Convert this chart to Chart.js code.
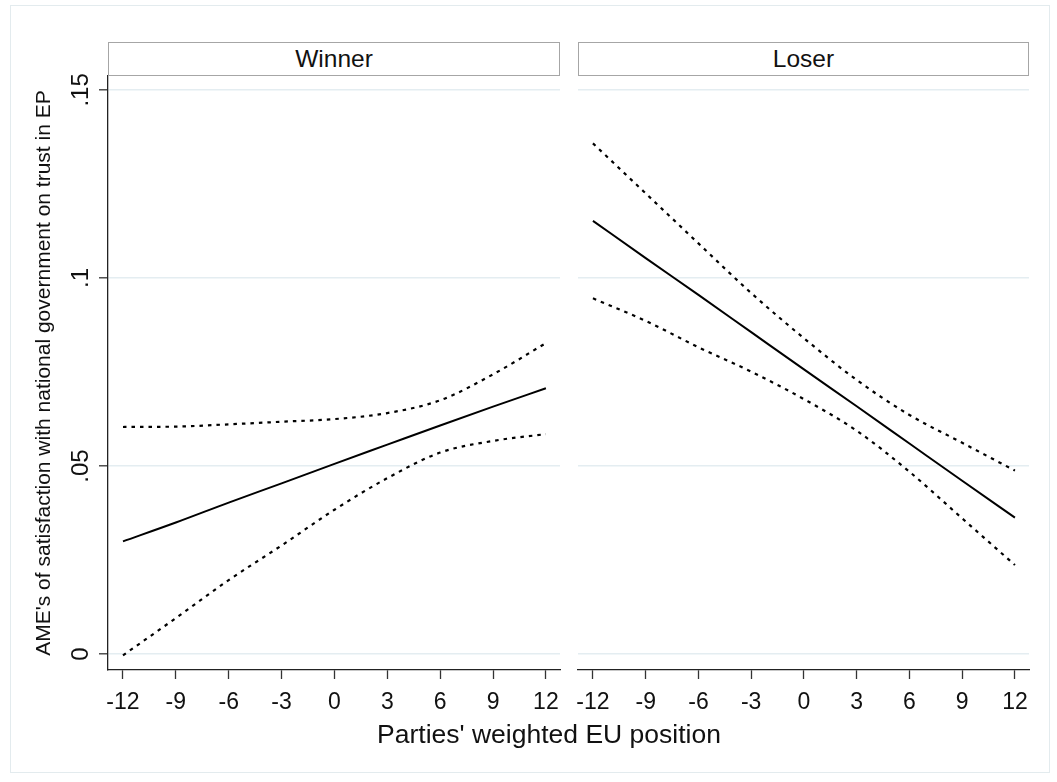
<!DOCTYPE html>
<html>
<head>
<meta charset="utf-8">
<script src="https://cdn.jsdelivr.net/npm/chart.js@4.4.1/dist/chart.umd.min.js"></script>
<style>
  html, body { margin: 0; padding: 0; background: #ffffff; }
  #wrap { position: relative; width: 1057px; height: 782px; overflow: hidden; background: #fff; }
  #frame { position: absolute; left: 10px; top: 5px; width: 1040px; height: 768px; border: 1px solid #e3ebee; box-sizing: border-box; }
  canvas { position: absolute; left: 0; top: 0; }
  .hdr { position: absolute; top: 42px; height: 34px; box-sizing: border-box; border: 1px solid #a6a6a6; background: #fff;
         font-family: "Liberation Sans", Arial, sans-serif; font-size: 24.5px; color: #111; text-align: center; line-height: 31px; }
  #xtitle { position: absolute; left: 0; width: 1098px; top: 719px; text-align: center;
            font-family: "Liberation Sans", Arial, sans-serif; font-size: 26.5px; color: #111; line-height: 30px; }
</style>
</head>
<body>
<div id="wrap">
  <div id="frame"></div>
  <canvas id="cw" width="1057" height="782"></canvas>
  <canvas id="cl" width="1057" height="782"></canvas>
  <div class="hdr" id="hw" style="left:108px; width:452px;">Winner</div>
  <div class="hdr" id="hl" style="left:578px; width:451px;">Loser</div>
  <div id="xtitle">Parties' weighted EU position</div>
</div>
<script>
// ---- data ----
const panelNames = ["Winner", "Loser"];
const xPositions = [-12, -9, -6, -3, 0, 3, 6, 9, 12];
const xTickValues = [-12, -9, -6, -3, 0, 3, 6, 9, 12];
const yTickValues = [0, 0.05, 0.1, 0.15];
const yTickLabels = ["0", ".05", ".1", ".15"];

const winnerAME   = [0.0300, 0.0350, 0.0403, 0.0454, 0.0506, 0.0557, 0.0608, 0.0658, 0.0707];
const winnerUpper = [0.0604, 0.0605, 0.0611, 0.0618, 0.0625, 0.0641, 0.0675, 0.0744, 0.0827];
const winnerLower = [-0.0003, 0.0096, 0.0197, 0.0289, 0.0384, 0.0468, 0.0536, 0.0567, 0.0585];

const loserAME    = [0.1152, 0.1053, 0.0955, 0.0856, 0.0757, 0.0659, 0.0560, 0.0461, 0.0363];
const loserUpper  = [0.1358, 0.1225, 0.1092, 0.0960, 0.0840, 0.0729, 0.0636, 0.0562, 0.0488];
const loserLower  = [0.0946, 0.0886, 0.0816, 0.0751, 0.0678, 0.0594, 0.0485, 0.0361, 0.0237];

const yTitle = "AME's of satisfaction with national government on trust in EP";

// ---- helpers ----
const FONT = '"Liberation Sans", Arial, sans-serif';
const toXY = (vals) => xPositions.map((x, i) => ({ x: x, y: vals[i] }));

function datasets(mid, up, lo) {
  const dotted = { borderColor: '#000', borderWidth: 2.2, borderDash: [3.5, 5], pointRadius: 0, fill: false, cubicInterpolationMode: 'monotone' };
  return [
    Object.assign({ label: 'upper', data: toXY(up) }, dotted),
    Object.assign({ label: 'lower', data: toXY(lo) }, dotted),
    { label: 'AME', data: toXY(mid), borderColor: '#000', borderWidth: 2, pointRadius: 0, fill: false, cubicInterpolationMode: 'monotone' }
  ];
}

function makeChart(id, mid, up, lo, isLeft) {
  const padLeft = isLeft ? 10 : 578;
  const padRight = isLeft ? (1057 - 560) : (1057 - 1029);
  return new Chart(document.getElementById(id), {
    type: 'line',
    data: { datasets: datasets(mid, up, lo) },
    options: {
      responsive: false,
      animation: false,
      events: [],
      layout: { padding: { left: padLeft, right: padRight, top: 76, bottom: 62 } },
      plugins: { legend: { display: false }, tooltip: { enabled: false }, title: { display: false } },
      scales: {
        x: {
          type: 'linear',
          min: -12.85, max: 12.8,
          afterBuildTicks: (s) => { s.ticks = xTickValues.map(v => ({ value: v })); },
          afterFit: (s) => { s.height = 50; },
          border: { display: true, color: '#222', width: 1.3 },
          grid: { display: true, drawOnChartArea: false, drawTicks: true, tickLength: 9, tickColor: '#333', tickWidth: 1.3 },
          ticks: { color: '#111', font: { family: FONT, size: 23 }, padding: 10, maxRotation: 0, minRotation: 0,
                   callback: (v) => String(v) }
        },
        y: {
          type: 'linear',
          min: -0.0042, max: 0.1537,
          afterBuildTicks: (s) => { s.ticks = yTickValues.map(v => ({ value: v })); },
          afterFit: (s) => { s.width = isLeft ? 98 : 0; },
          border: { display: isLeft, color: '#222', width: 1.3 },
          grid: { display: true, drawOnChartArea: true, color: '#e4edf1', lineWidth: 1.6,
                  drawTicks: isLeft, tickLength: 9, tickColor: '#333', tickWidth: 1.3 },
          ticks: { display: isLeft, color: '#111', font: { family: FONT, size: 24 }, padding: 1,
                   minRotation: 90, maxRotation: 90, crossAlign: 'center',
                   callback: (v) => { const i = yTickValues.findIndex(t => Math.abs(t - v) < 1e-9); return i >= 0 ? yTickLabels[i] : ''; } },
          title: { display: isLeft, text: yTitle, color: '#111', font: { family: FONT, size: 21 }, padding: { top: 22, bottom: 0 } }
        }
      }
    }
  });
}

makeChart('cw', winnerAME, winnerUpper, winnerLower, true);
makeChart('cl', loserAME, loserUpper, loserLower, false);
</script>
</body>
</html>
